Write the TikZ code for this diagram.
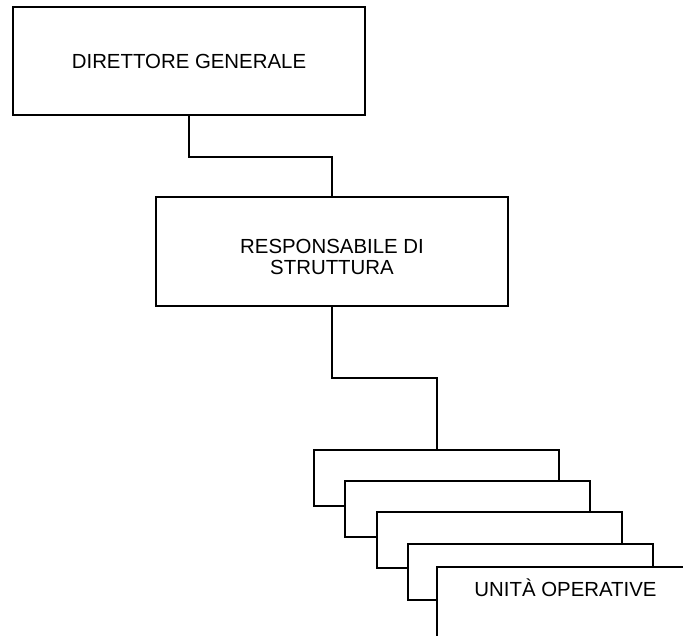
\documentclass[tikz,border=0pt]{standalone}
\usepackage{fontspec}
\setmainfont{Liberation Sans}
\begin{document}
\begin{tikzpicture}[x=1pt,y=-1pt,
  box/.style={draw=black,line width=1.5pt,fill=white,rectangle,inner sep=0pt,outer sep=0pt,align=center,font=\fontsize{20.4}{21.5}\selectfont},
  bigbox/.style={box,minimum width=352pt,minimum height=108pt},
  unitbox/.style={box,minimum width=245pt,minimum height=56pt},
  conn/.style={line width=1.5pt,line cap=rect}]
\useasboundingbox (0,0) rectangle (683,635);
\clip (0,0) rectangle (683,635);
\node[bigbox] (dg) at (189,61) {DIRETTORE GENERALE};
\node[bigbox,minimum height=109pt] (rs) at (332,251.5) {};
\node[anchor=base,font=\fontsize{20.4}{21.5}\selectfont,align=center] (rst) at (332,253) {RESPONSABILE DI};
\node[anchor=base,font=\fontsize{20.4}{21.5}\selectfont] (rst2) at (332,274) {STRUTTURA};
\node[unitbox] (ua) at (436.5,478) {};
\node[unitbox] (ub) at (467.5,509) {};
\node[unitbox] (uc) at (499.5,540) {};
\node[unitbox] (ud) at (530.5,572) {};
\node[box,anchor=north west,minimum width=300pt,minimum height=100pt] (ue) at (437,567) {};
\node[anchor=base,font=\fontsize{20.4}{21.5}\selectfont] (uet) at (565.5,596) {UNITÀ OPERATIVE};
\coordinate (j1) at (190,157);
\coordinate (j2) at (332,378);
\draw[conn] (dg.south) |- (j1 -| rs.north) -- (rs.north);
\draw[conn] (rs.south) -- (j2) -| (ue.north west |- ua.north);
\end{tikzpicture}
\end{document}
